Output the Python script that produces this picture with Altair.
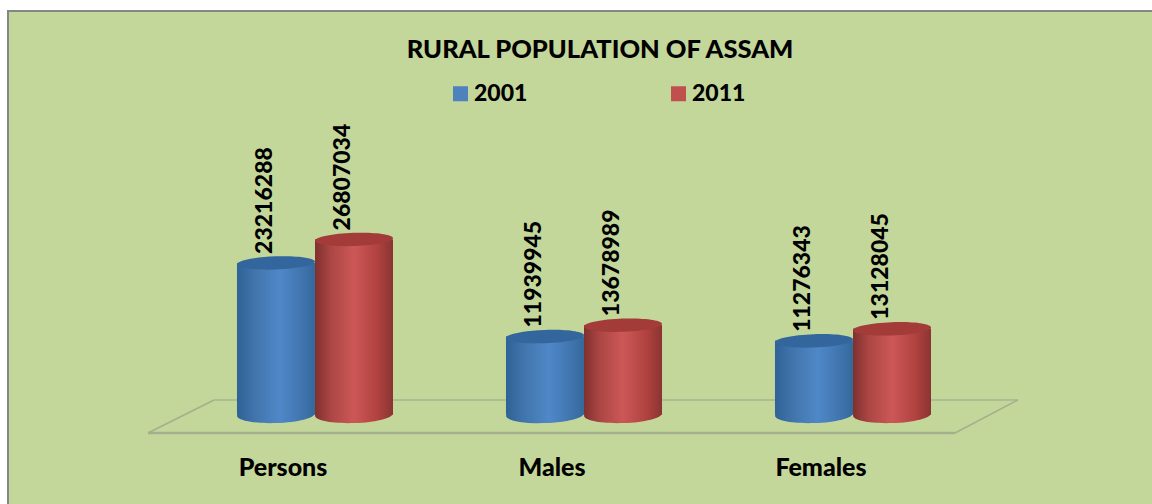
import altair as alt
import pandas as pd

# Rural population of Assam, census years 2001 and 2011
categories = ["Persons", "Males", "Females"]
years = ["2001", "2011"]
values_2001 = [23216288, 11939945, 11276343]
values_2011 = [26807034, 13678989, 13128045]
series_colors = ["#4f81bd", "#c0504d"]
FONT = "Lato"

rows = []
for cat, a, b in zip(categories, values_2001, values_2011):
    rows.append({"category": cat, "year": "2001", "value": a, "base": 0})
    rows.append({"category": cat, "year": "2011", "value": b, "base": 0})
df = pd.DataFrame(rows)

x_enc = alt.X("category:N", sort=categories, axis=None,
              scale=alt.Scale(type="band", range=[180.5, 987.5], paddingInner=0.42, paddingOuter=0.21))
off_enc = alt.XOffset("year:N", sort=years, scale=alt.Scale(type="band", paddingInner=0, paddingOuter=0))
y_scale = alt.Scale(domain=[0, 63476000], range=[414.5, 0])
y_val = alt.Y("value:Q", axis=None, scale=y_scale)
y_base = alt.Y("base:Q", axis=None, scale=y_scale)


def ramp(stops):
    return alt.Gradient(
        gradient="linear", x1=0, x2=1, y1=0, y2=0,
        stops=[alt.GradientStop(offset=o, color=c) for o, c in stops],
    )


blue_ramp = ramp([(0, "#2f6397"), (0.25, "#4276ad"), (0.55, "#4f88c8"), (0.85, "#3f73ad"), (1, "#34699c")])
red_ramp = ramp([(0, "#7f302e"), (0.2, "#ab4644"), (0.5, "#cc5856"), (0.8, "#b0423f"), (1, "#8a3432")])
top_caps = {"2001": "#33669c", "2011": "#a33b39"}
ramps = {"2001": blue_ramp, "2011": red_ramp}

# Unit-square ellipses for the cylinder ends; the base sits a little rounder than the lid
TOP_ELLIPSE = "M-1,0 A1,0.17 0 1,1 1,0 A1,0.17 0 1,1 -1,0 Z"
BASE_ELLIPSE = "M-1,0 A1,0.22 0 1,1 1,0 A1,0.22 0 1,1 -1,0 Z"
CAP_SIZE = 78 * 78
TILT = 358


def rule(x, x2, y, y2, width=1.5, color="#a3b08b"):
    return alt.Chart(df.head(1)).mark_rule(color=color, strokeWidth=width).encode(
        x=alt.value(x), x2=alt.value(x2), y=alt.value(y), y2=alt.value(y2)
    )


# Card behind the chart; its right and bottom edges run off the page
card = alt.Chart(df.head(1)).mark_rect(fill="#c4d79b", stroke="#868686", strokeWidth=2).encode(
    x=alt.value(8), x2=alt.value(1170), y=alt.value(11), y2=alt.value(520)
)

# Floor outline under the cylinders
floor = [
    rule(214, 1018, 400, 400, 1.5, "#a9b592"),
    rule(148, 214, 433, 400),
    rule(955, 1018, 433, 400),
    rule(148, 955, 433, 433, 2.5),
]

# Flat bars carry the legend; gradient layers give the cylinders their shading
legend_bars = alt.Chart(df).mark_bar(size=78).encode(
    x=x_enc, xOffset=off_enc, y=y_val, y2=alt.Y2("base:Q"),
    color=alt.Color(
        "year:N", sort=years,
        scale=alt.Scale(domain=years, range=series_colors),
        legend=alt.Legend(
            title=None, orient="none", legendX=449, legendY=82, direction="horizontal",
            columns=2, columnPadding=139, symbolType="square", symbolSize=225,
            symbolStrokeWidth=0, labelFont=FONT, labelFontWeight=900, labelFontSize=23,
            labelColor="black", labelOffset=2, labelLimit=200, padding=0,
        ),
    ),
)

cylinders = []
for yr in years:
    sub = alt.Chart(df).transform_filter(alt.datum.year == yr)
    cylinders.append(sub.mark_point(shape=BASE_ELLIPSE, size=CAP_SIZE, filled=True, fill=ramps[yr], opacity=1,
                                    strokeWidth=0, angle=TILT)
                     .encode(x=x_enc, xOffset=off_enc, y=y_base))
    cylinders.append(sub.mark_bar(size=78, fill=ramps[yr]).encode(x=x_enc, xOffset=off_enc, y=y_val, y2=alt.Y2("base:Q")))
    cylinders.append(sub.mark_point(shape=TOP_ELLIPSE, size=CAP_SIZE, filled=True, fill=top_caps[yr], opacity=1,
                                    strokeWidth=0, angle=TILT)
                     .encode(x=x_enc, xOffset=off_enc, y=y_val))

value_labels = alt.Chart(df).mark_text(
    angle=270, align="left", baseline="middle", dx=9, dy=-11,
    font=FONT, fontWeight=900, fontSize=23, color="black",
).encode(x=x_enc, xOffset=off_enc, y=y_val, text=alt.Text("value:Q", format="d"))

category_labels = alt.Chart(pd.DataFrame({"category": categories})).mark_text(
    dx=-32, font=FONT, fontWeight=900, fontSize=25, color="black", baseline="alphabetic",
).encode(x=x_enc, y=alt.value(476), text="category:N")

chart = alt.layer(
    card, *floor, legend_bars, *cylinders, value_labels, category_labels
).resolve_scale(x="shared", y="shared").properties(
    width=1152, height=504, padding=0, background="white",
    autosize=alt.AutoSizeParams(type="none"),
    title=alt.TitleParams(
        "RURAL POPULATION OF ASSAM", anchor="middle", dx=24, dy=67,
        font=FONT, fontWeight=900, fontSize=25.5, color="black",
    ),
).configure_view(stroke=None)

chart.save("out.html", embed_options={"renderer": "svg", "actions": False})
